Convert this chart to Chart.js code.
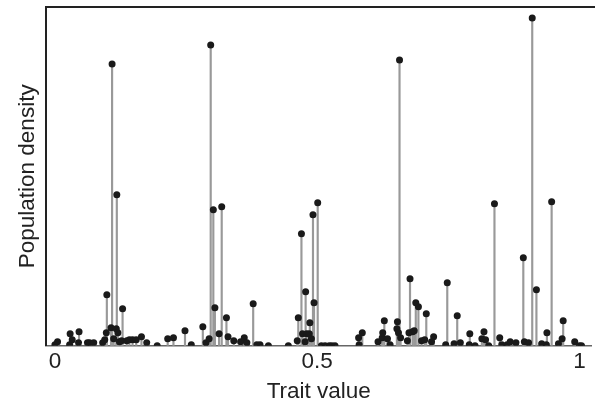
<!DOCTYPE html>
<html>
<head>
<meta charset="utf-8">
<script src="https://cdn.jsdelivr.net/npm/chart.js@4.4.1/dist/chart.umd.min.js"></script>
<style>
  html, body { margin: 0; padding: 0; background: #fff; overflow: hidden; }
  #wrap { width: 595px; height: 405px; }
</style>
</head>
<body>
<div id="wrap"><canvas id="densityChart"></canvas></div>
<script>
// trait values (x) and population density (arbitrary units)
var traitValues = [
  0.000, 0.005, 0.028, 0.029, 0.033, 0.045, 0.046, 0.062, 0.066, 0.074,
  0.091, 0.095, 0.098, 0.099, 0.107, 0.109, 0.112, 0.117, 0.118, 0.120,
  0.123, 0.127, 0.129, 0.137, 0.142, 0.148, 0.155, 0.165, 0.175, 0.195,
  0.215, 0.226, 0.248, 0.260, 0.282, 0.288, 0.294, 0.297, 0.302, 0.305,
  0.313, 0.318, 0.327, 0.330, 0.341, 0.354, 0.361, 0.366, 0.378, 0.385,
  0.391, 0.407, 0.445, 0.462, 0.464, 0.470, 0.472, 0.477, 0.478, 0.480,
  0.485, 0.486, 0.489, 0.492, 0.494, 0.501, 0.508, 0.515, 0.523, 0.528,
  0.534, 0.579, 0.580, 0.586, 0.616, 0.624, 0.625, 0.628, 0.634, 0.639,
  0.652, 0.653, 0.655, 0.657, 0.659, 0.672, 0.675, 0.677, 0.682, 0.685,
  0.688, 0.693, 0.699, 0.705, 0.708, 0.718, 0.722, 0.745, 0.748, 0.761,
  0.767, 0.773, 0.790, 0.791, 0.801, 0.814, 0.818, 0.821, 0.827, 0.838,
  0.848, 0.852, 0.862, 0.868, 0.879, 0.893, 0.895, 0.903, 0.910, 0.918,
  0.928, 0.937, 0.938, 0.947, 0.960, 0.967, 0.969, 0.991, 1.000, 1.004
];
var densities = [
  1, 4, 1, 12, 6, 3, 14, 3, 3, 3,
  3, 6, 13, 51, 18, 282, 7, 17, 151, 13,
  4, 5, 37, 5, 6, 6, 6, 9, 3, 0,
  7, 8, 15, 1, 19, 3, 7, 301, 136, 38,
  12, 139, 28, 9, 5, 4, 8, 3, 42, 1,
  1, 0, 0, 5, 28, 112, 12, 4, 54, 12,
  12, 23, 7, 131, 43, 143, 0, 0, 0, 0,
  0, 8, 1, 13, 4, 8, 13, 25, 7, 1,
  17, 24, 13, 286, 8, 5, 13, 67, 14, 15,
  43, 39, 5, 6, 32, 4, 9, 1, 63, 2,
  30, 3, 1, 12, 0, 7, 14, 6, 0, 142,
  8, 1, 1, 4, 3, 88, 4, 3, 328, 56,
  2, 1, 13, 144, 2, 7, 25, 4, 0, 0
];
var xTicks = [0, 0.5, 1];

var points = traitValues.map(function (x, i) {
    return { x: x, y: densities[i] };
});

// top frame line
var frameTop = {
    id: 'frameTop',
    afterDraw: function (chart) {
        var a = chart.chartArea;
        var ctx = chart.ctx;
        ctx.save();
        ctx.strokeStyle = '#222';
        ctx.lineWidth = 2;
        ctx.beginPath();
        ctx.moveTo(a.left - 1, a.top);
        ctx.lineTo(chart.width, a.top);
        ctx.stroke();
        ctx.restore();
    }
};

var font = 'Liberation Sans, Arial, sans-serif';

var ctx = document.getElementById('densityChart').getContext('2d');
var densityChart = new Chart(ctx, {
    type: 'scatter',
    data: {
        datasets: [
            {
                type: 'scatter',
                data: points,
                backgroundColor: '#1a1a1a',
                borderColor: '#1a1a1a',
                pointRadius: 3.5,
                pointHoverRadius: 3.5,
                borderWidth: 0,
                order: 0,
            },
            {
                type: 'bar',
                data: points,
                backgroundColor: '#999',
                barThickness: 1.5,
                grouped: false,
                order: 1,
            },
        ],
    },
    options: {
        responsive: true,
        maintainAspectRatio: false,
        animation: false,
        events: [],
        layout: { padding: { top: 7, left: 14, right: 0, bottom: 0 } },
        plugins: {
            legend: { display: false },
            tooltip: { enabled: false },
        },
        scales: {
            x: {
                type: 'linear',
                offset: false,
                min: -0.017,
                max: 1.023,
                afterBuildTicks: function (axis) {
                    axis.ticks = xTicks.map(function (v) { return { value: v }; });
                },
                ticks: {
                    color: '#222',
                    padding: 5.5,
                    font: { family: font, size: 22.5, lineHeight: 0.95 },
                    callback: function (v) { return String(v); },
                },
                grid: { display: false, drawTicks: false, offset: false },
                border: { display: true, color: '#666', width: 1.5 },
                title: {
                    display: true,
                    text: 'Trait value',
                    color: '#222',
                    padding: { top: 0, bottom: 0 },
                    font: { family: font, size: 22.5 },
                },
            },
            y: {
                min: 0,
                max: 339,
                ticks: { display: false },
                grid: { display: false, drawTicks: false },
                border: { display: true, color: '#222', width: 2 },
                title: {
                    display: true,
                    text: 'Population density',
                    color: '#222',
                    padding: { top: 0, bottom: 5 },
                    font: { family: font, size: 22.5 },
                },
            },
        },
    },
    plugins: [frameTop],
});
</script>
</body>
</html>
